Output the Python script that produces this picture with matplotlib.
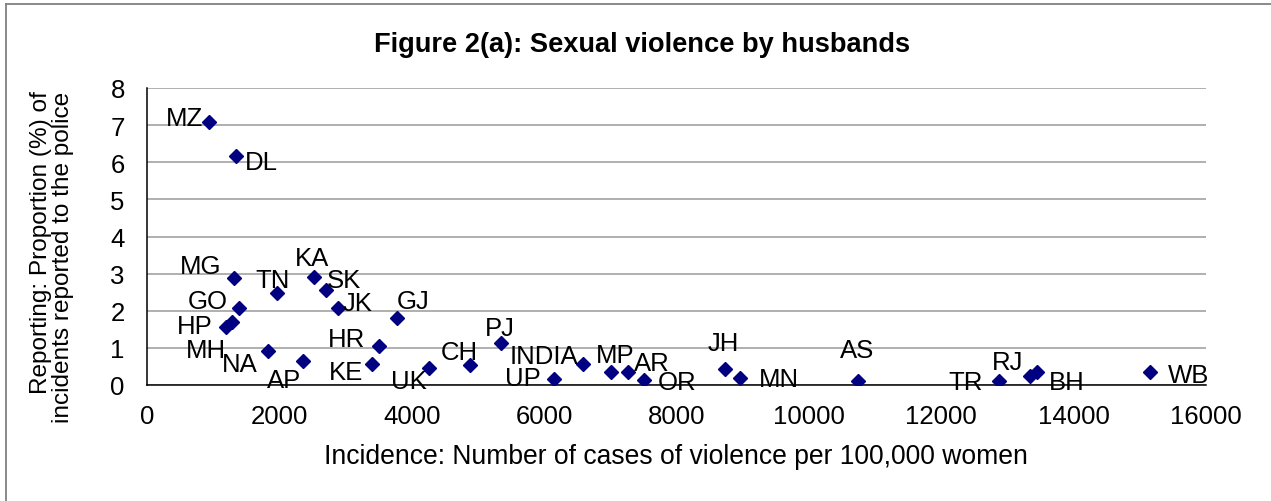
import matplotlib
matplotlib.use("Agg")
import matplotlib.pyplot as plt
from matplotlib.lines import Line2D

plt.rcParams['font.family'] = ['Liberation Sans', 'DejaVu Sans']

# data
states = ['MZ', 'DL', 'MG', 'GO', 'HP', 'MH', 'TN', 'KA', 'SK', 'JK',
          'GJ', 'HR', 'NA', 'AP', 'KE', 'UK', 'CH', 'PJ', 'UP', 'INDIA',
          'MP', 'AR', 'OR', 'JH', 'MN', 'AS', 'TR', 'RJ', 'BH', 'WB']
incidence = [937, 1340, 1319, 1390, 1289, 1189, 1969, 2523, 2699, 2890,
             3781, 3499, 1828, 2357, 3399, 4265, 4879, 5341, 6151, 6590,
             7004, 7270, 7508, 8731, 8958, 10745, 12870, 13338, 13440, 15151]
reporting = [7.08, 6.16, 2.88, 2.08, 1.71, 1.55, 2.47, 2.91, 2.57, 2.08,
             1.81, 1.06, 0.92, 0.65, 0.57, 0.47, 0.55, 1.13, 0.16, 0.57,
             0.34, 0.36, 0.13, 0.43, 0.19, 0.11, 0.12, 0.23, 0.36, 0.34]
x_ticks = [0, 2000, 4000, 6000, 8000, 10000, 12000, 14000, 16000]
y_ticks = [0, 1, 2, 3, 4, 5, 6, 7, 8]

# label placement (pixel offsets of the label's cap-centre from the marker)
label_pos = {
    'MZ': (-6, 6, 'right'), 'DL': (9, -3, 'left'), 'MG': (-13, 14, 'right'),
    'GO': (-11, 9, 'right'), 'HP': (-20, -2, 'right'), 'MH': (0, -20, 'right'),
    'TN': (-5, 16, 'center'), 'KA': (-2, 21, 'center'), 'SK': (1, 12, 'left'),
    'JK': (4, 7, 'left'), 'GJ': (-1, 19, 'left'), 'HR': (-13, 9, 'right'),
    'NA': (-10, -11, 'right'), 'AP': (-2, -17, 'right'), 'KE': (-9, -6, 'right'),
    'UK': (-3, -11, 'right'), 'CH': (-11, 15, 'center'), 'PJ': (-1, 17, 'center'),
    'UP': (-13, 3, 'right'), 'INDIA': (-5, 10, 'right'), 'MP': (5, 20, 'center'),
    'AR': (6, 11, 'left'), 'OR': (14, 0, 'left'), 'JH': (-2, 28, 'center'),
    'MN': (19, 1, 'left'), 'AS': (-1, 33, 'center'), 'TR': (-16, 1, 'right'),
    'RJ': (-22, 17, 'center'), 'BH': (12, -8, 'left'), 'WB': (18, 0, 'left'),
}

W, H = 1271, 502
fig = plt.figure(figsize=(W / 100, H / 100), dpi=100)
ax = fig.add_axes([147 / W, 1 - 386 / H, (1206 - 147) / W, (386 - 89) / H])

ax.plot(incidence, reporting, linestyle='none', marker='D', markersize=7.2,
        color='#000080', zorder=3)

fs = 18.5
cap_half = 9.3
for name, xv, yv in zip(states, incidence, reporting):
    dx, dy, ha = label_pos[name]
    ax.annotate(name, (xv, yv), xytext=(dx, dy - cap_half),
                textcoords='offset pixels', ha=ha, va='baseline',
                fontsize=fs, color='black', zorder=4)

ax.set_xlim(0, 16000)
ax.set_ylim(0, 8)
ax.set_xticks(x_ticks)
ax.set_yticks(y_ticks)
ax.tick_params(axis='both', length=0, labelsize=fs)
ax.tick_params(axis='x', pad=14)
ax.tick_params(axis='y', pad=16)
ax.yaxis.grid(True, color='#9a9a9a', linewidth=1.1)
ax.set_axisbelow(True)
for side in ['top', 'right']:
    ax.spines[side].set_visible(False)
for side in ['left', 'bottom']:
    ax.spines[side].set_color('black')
    ax.spines[side].set_linewidth(1.1)

fig.text(642 / W, 1 - 45 / H, 'Figure 2(a): Sexual violence by husbands',
         ha='center', va='center', fontsize=19.6, fontweight='bold')
fig.text(676 / W, 1 - 457 / H,
         'Incidence: Number of cases of violence per 100,000 women',
         ha='center', va='center', fontsize=19.1)
fig.text(52 / W, 1 - 257 / H,
         'Reporting: Proportion (%) of\nincidents reported to the police',
         ha='center', va='center', rotation=90, fontsize=17.6,
         linespacing=0.95, multialignment='right')

# chart-area frame (only top and left edges are inside the picture)
fig.add_artist(Line2D([6 / W, 6 / W], [0, 1 - 5 / H], color='#808080',
                      linewidth=1.3, transform=fig.transFigure))
fig.add_artist(Line2D([6 / W, 1], [1 - 5 / H, 1 - 5 / H], color='#808080',
                      linewidth=1.3, transform=fig.transFigure))

fig.savefig('out.png', dpi=100)
